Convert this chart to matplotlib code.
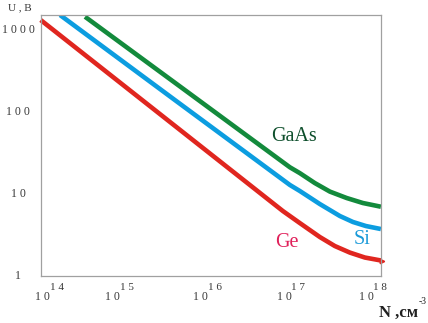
import numpy as np
import matplotlib
matplotlib.use('Agg')
import matplotlib.pyplot as plt
from matplotlib.transforms import blended_transform_factory, offset_copy

# breakdown voltage vs doping
n_gaas = [3.32e14, 4.34e15, 8.49e16, 1.11e17, 1.67e17, 2.51e17, 3.95e17, 6.12e17, 9.98e17]
u_gaas = [1453, 205, 21.2, 18.0, 13.6, 10.7, 8.94, 7.77, 7.0]

n_si = [1.69e14, 3.78e15, 8.49e16, 1.11e17, 1.91e17, 3.29e17, 4.68e17, 6.65e17, 9.98e17]
u_si = [1524, 140, 12.9, 10.9, 7.55, 5.39, 4.56, 4.07, 3.74]

n_ge = [1.0e14, 2.52e15, 7.03e16, 1.11e17, 1.91e17, 2.87e17, 4.31e17, 6.47e17, 1.02e18]
u_ge = [1324, 94.5, 6.2, 4.43, 2.99, 2.32, 1.93, 1.68, 1.54]

y_ticks = [1, 10, 100, 1000]
y_labels = ['1', '1 0', '1 0 0', '1 0 0 0']
x_ticks = [1e14, 1e15, 1e16, 1e17, 1e18]
x_exps = ['1 4', '1 5', '1 6', '1 7', '1 8']
x_shift = [16, 1, 4, 2.5, -1]  # pixel nudges of the exponent labels

serif = 'Liberation Serif'
grey = '#383838'

fig = plt.figure(figsize=(4.28, 3.23), dpi=100)
ax = fig.add_axes([0.0951, 0.1455, 0.795, 0.807])

ax.plot(n_gaas, u_gaas, color='#138a3c', lw=3.3, solid_capstyle='butt')
ax.plot(n_si, u_si, color='#0c9de0', lw=3.3, solid_capstyle='butt')
ax.plot(n_ge, u_ge, color='#e0261f', lw=3.3, solid_capstyle='butt',
        marker='>', markevery=[-1], ms=3.2, clip_on=False)

ax.set_xscale('log')
ax.set_yscale('log')
ax.set_xlim(1e14, 1e18)
ax.set_ylim(1, 1511)
ax.set_xticks([])
ax.set_yticks([])
ax.minorticks_off()
for s in ax.spines.values():
    s.set_color('#a0a0a0')
    s.set_linewidth(0.9)

# y tick labels, centred left of the axis
ty = blended_transform_factory(ax.transAxes, ax.transData)
for v, lab in zip(y_ticks, y_labels):
    ax.text(-0.066, v, lab, transform=ty, ha='center', va='center',
            fontsize=8.5, family=serif, color=grey, clip_on=False)

# x tick labels: 10 with superscript exponent
tx = blended_transform_factory(ax.transData, ax.transAxes)
for v, e, dx in zip(x_ticks, x_exps, x_shift):
    base = offset_copy(tx, fig=fig, x=dx - 14, y=-21, units='dots')
    ax.text(v, 0, '1 0', transform=base, ha='center', va='center',
            fontsize=8.5, family=serif, color=grey, clip_on=False)
    sup = offset_copy(tx, fig=fig, x=dx, y=-11, units='dots')
    ax.text(v, 0, e, transform=sup, ha='center', va='center',
            fontsize=8, family=serif, color=grey, clip_on=False)

# curve names
ax.text(9.5e16, 49.6, 'GaAs', fontsize=14.5, family=serif, color='#0e4f2c',
        ha='center', va='center')
ax.text(5.97e17, 2.75, 'Si', fontsize=14.5, family=serif, color='#1a9ad9',
        ha='center', va='center')
ax.text(7.83e16, 2.53, 'Ge', fontsize=14.5, family=serif, color='#e0205a',
        ha='center', va='center')

# axis names
fig.text(20 / 428, 1 - 8 / 323, 'U , B', fontsize=8, family=serif,
         color=grey, ha='center', va='center')
fig.text(399 / 428, 1 - 313 / 323, 'N ,см', fontsize=12, family=serif,
         weight='bold', color='#202020', ha='center', va='center')
fig.text(423 / 428, 1 - 302 / 323, '-3', fontsize=7, family=serif,
         color='#202020', ha='center', va='center')

fig.savefig('out.png', dpi=100)
